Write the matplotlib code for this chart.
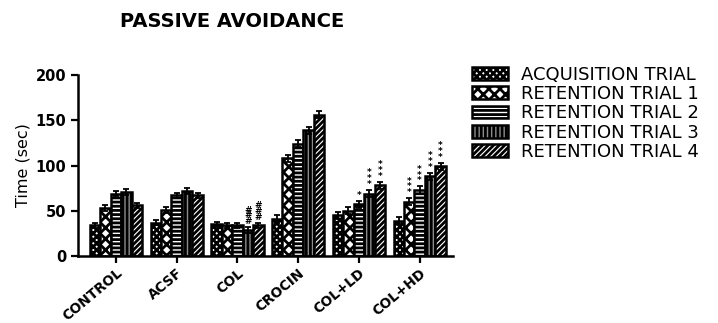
import numpy as np
import matplotlib.pyplot as plt

plt.rcParams['font.family'] = ['DejaVu Sans']
plt.rcParams['hatch.linewidth'] = 2.0

groups = ["CONTROL", "ACSF", "COL", "CROCIN", "COL+LD", "COL+HD"]
trials = ["ACQUISITION TRIAL", "RETENTION TRIAL 1", "RETENTION TRIAL 2",
          "RETENTION TRIAL 3", "RETENTION TRIAL 4"]

acquisition = [34, 37, 35, 41, 45, 39]
retention1 = [53, 51, 34, 108, 50, 60]
retention2 = [69, 67, 34, 124, 57, 73]
retention3 = [71, 72, 29, 139, 69, 88]
retention4 = [56, 67, 34, 156, 78, 99]
errors = [3, 3, 3, 4, 4, 4]

# significance marks above bars: (group, trial, text)
marks = [(2, 3, "#\n#\n#"), (2, 4, "#\n#\n#"),
         (4, 2, "*"), (4, 3, "*\n*\n*"), (4, 4, "*\n*\n*"),
         (5, 1, "*\n*\n*"), (5, 2, "*\n*\n*"), (5, 3, "*\n*\n*"), (5, 4, "*\n*\n*")]

series = [acquisition, retention1, retention2, retention3, retention4]
hatches = ["xxxxx", "XXX", "----", "||||", "//////"]
faces = ["white", "white", "white", "#8c8c8c", "white"]

fig = plt.figure(figsize=(7.18, 3.23), dpi=100)
ax = fig.add_axes([0.109, 0.207, 0.522, 0.561])

x = np.arange(len(groups))
w = 0.172
for i, vals in enumerate(series):
    pos = x + (i - 2) * w
    ax.bar(pos, vals, w, color=faces[i], edgecolor="black", hatch=hatches[i],
           linewidth=1.8, label=trials[i], zorder=2)
    ax.errorbar(pos, vals, yerr=errors, fmt="none", ecolor="black",
                elinewidth=1.3, capsize=2.5, capthick=1.3, zorder=3)

for g, t, txt in marks:
    v = series[t][g] + errors[g] + 1
    ax.text(g + (t - 2) * w, v, txt, ha="center", va="bottom", fontsize=6.5,
            linespacing=0.55, fontweight="bold")

ax.set_ylim(0, 200)
ax.set_xlim(-0.62, 5.55)
ax.set_yticks([0, 50, 100, 150, 200])
ax.set_xticks(x)
ax.set_xticklabels(groups, rotation=40, ha="right", rotation_mode="anchor",
                   fontsize=9.8, fontweight="bold")
for lab in ax.get_yticklabels():
    lab.set_fontweight("bold")
    lab.set_fontsize(10.5)
ax.tick_params(width=1.6, length=5)
ax.tick_params(axis="x", pad=2)
ax.spines["top"].set_visible(False)
ax.spines["right"].set_visible(False)
ax.spines["left"].set_linewidth(1.8)
ax.spines["bottom"].set_linewidth(1.8)
ax.set_ylabel("Time (sec)", fontsize=11.5)

fig.text(0.323, 0.932, "PASSIVE AVOIDANCE", ha="center", va="center",
         fontsize=14, fontweight="bold")

ax.legend(loc="upper left", bbox_to_anchor=(1.007, 1.14), frameon=False,
          fontsize=13, handlelength=2.0, handleheight=0.72,
          labelspacing=0.07, handletextpad=0.7)

fig.savefig("out.png", dpi=100)
